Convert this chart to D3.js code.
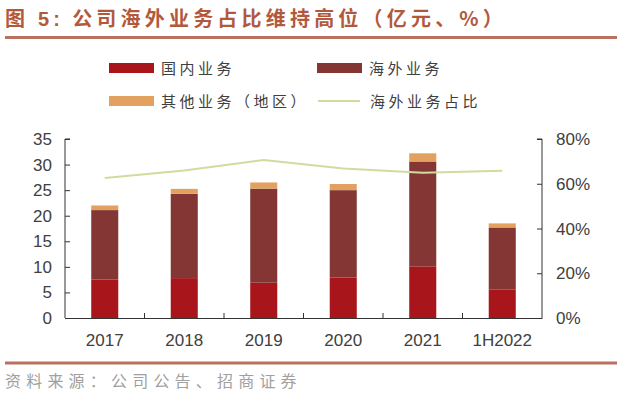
<!DOCTYPE html>
<html>
<head>
<meta charset="utf-8">
<script src="https://d3js.org/d3.v7.min.js"></script>
<style>
  body { margin: 0; background: #fff; }
  svg { display: block; font-family: "Liberation Sans", Arial, sans-serif; }
  .cjk { font-family: "Noto Sans CJK SC", sans-serif; }
</style>
</head>
<body>
<div id="chart"></div>
<script>
// data (亿元, %)
const years    = ["2017", "2018", "2019", "2020", "2021", "1H2022"]
const domestic = [7.5, 7.8, 6.9, 7.9, 10.1, 5.6]
const overseas = [13.6, 16.5, 18.4, 17.1, 20.5, 12.1]
const others   = [0.9, 0.95, 1.2, 1.2, 1.6, 0.8]
const share    = [62.6, 65.9, 70.6, 66.8, 64.9, 65.8]
const leftTicks  = [0, 5, 10, 15, 20, 25, 30, 35]
const rightTicks = [0, 20, 40, 60, 80]

const w = 640, h = 399
const m = {left: 65, right: 98, top: 139, bottom: 81}

const colors = {domestic: "#a8161b", overseas: "#843634", others: "#e2a15f", share: "#cfdc9f"}

const svg = d3.select("#chart").append("svg").attr("width", w).attr("height", h)

// title + rules
const title = svg.append("text").attr("class", "cjk").attr("x", 5).attr("y", 26)
  .attr("font-size", 20).attr("font-weight", "bold").attr("fill", "#b3593b")
  .attr("letter-spacing", 4.2)
title.append("tspan").text("图 ")
title.append("tspan").attr("font-family", "Liberation Sans, Arial, sans-serif").text("5:")
title.append("tspan").attr("dx", 8).text("公司海外业务占比维持高位（亿元、%）")
svg.append("line").attr("x1", 5).attr("x2", 617).attr("y1", 37.5).attr("y2", 37.5)
  .attr("stroke", "#b8725f").attr("stroke-width", 3)
svg.append("line").attr("x1", 5).attr("x2", 617).attr("y1", 363).attr("y2", 363)
  .attr("stroke", "#b8725f").attr("stroke-width", 3)
svg.append("text").attr("class", "cjk").attr("x", 5).attr("y", 387)
  .attr("font-size", 16).attr("fill", "#a0a0a0").attr("letter-spacing", 5.2)
  .text("资料来源：公司公告、招商证券")

const x = d3.scaleBand().domain(years).range([m.left, w - m.right]).paddingInner(0.66).paddingOuter(0.33)
const xb = d3.scaleBand().domain(years).range([m.left, w - m.right])
const y = d3.scaleLinear().domain([0, 35]).range([h - m.bottom, m.top])
const y2 = d3.scaleLinear().domain([0, 80]).range([h - m.bottom, m.top])

// stacked bars
const rows = years.map((yr, i) => ({year: yr, domestic: domestic[i], overseas: overseas[i], others: others[i]}))
const stack = d3.stack().keys(["domestic", "overseas", "others"])(rows)

svg.selectAll(".layer").data(stack).enter().append("g")
  .attr("fill", d => colors[d.key])
  .selectAll("rect").data(d => d).enter().append("rect")
  .attr("x", d => x(d.data.year))
  .attr("width", x.bandwidth())
  .attr("y", d => y(d[1]))
  .attr("height", d => y(d[0]) - y(d[1]))

// share line
const line = d3.line().x((d, i) => xb(years[i]) + xb.bandwidth() / 2).y(d => y2(d))
svg.append("path").datum(share).attr("d", line)
  .attr("fill", "none").attr("stroke", colors.share).attr("stroke-width", 2)

// axes
const axisColor = "#333"
const gl = svg.append("g").attr("transform", `translate(${m.left},0)`)
  .call(d3.axisRight(y).tickValues(leftTicks).tickSize(5).tickFormat(""))
gl.select(".domain").attr("d", `M5,${y(35)}H0V${y(0)}`)
gl.selectAll("line, path").attr("stroke", axisColor)
svg.append("g").selectAll("text").data(leftTicks).enter().append("text")
  .attr("x", 52).attr("y", d => y(d) + 6).attr("text-anchor", "end")
  .attr("font-size", 17).attr("fill", "#404040").text(d => d)

const gr = svg.append("g").attr("transform", `translate(${w - m.right},0)`)
  .call(d3.axisLeft(y2).tickValues(rightTicks).tickSize(5).tickFormat(""))
gr.select(".domain").attr("d", `M-5,${y2(80)}H0V${y2(0)}`)
gr.selectAll("line, path").attr("stroke", axisColor)
svg.append("g").selectAll("text").data(rightTicks).enter().append("text")
  .attr("x", w - m.right + 14).attr("y", d => y2(d) + 6)
  .attr("font-size", 17).attr("fill", "#404040").text(d => d + "%")

const gx = svg.append("g").attr("transform", `translate(0,${h - m.bottom})`)
  .call(d3.axisTop(xb).tickSize(0).tickFormat(""))
gx.selectAll("line, path").attr("stroke", axisColor)
// boundary ticks between categories
gx.selectAll(".sep").data(years.slice(1)).enter().append("line")
  .attr("x1", d => xb(d)).attr("x2", d => xb(d)).attr("y1", 0).attr("y2", -5)
  .attr("stroke", axisColor)
svg.append("g").selectAll("text").data(years).enter().append("text")
  .attr("x", d => xb(d) + xb.bandwidth() / 2).attr("y", 346)
  .attr("text-anchor", "middle").attr("font-size", 17).attr("fill", "#404040").text(d => d)

// legend
const legend = [
  {label: "国内业务", key: "domestic", type: "rect", x: 109, y: 68},
  {label: "海外业务", key: "overseas", type: "rect", x: 317, y: 68},
  {label: "其他业务（地区）", key: "others", type: "rect", x: 109, y: 101},
  {label: "海外业务占比", key: "share", type: "line", x: 318, y: 101}
]
const lg = svg.append("g").selectAll("g").data(legend).enter().append("g")
  .attr("transform", d => `translate(${d.x},${d.y})`)
lg.filter(d => d.type === "rect").append("rect")
  .attr("x", 0).attr("y", -5).attr("width", 45).attr("height", 10).attr("fill", d => colors[d.key])
lg.filter(d => d.type === "line").append("line")
  .attr("x1", 0).attr("x2", 42).attr("y1", 0).attr("y2", 0)
  .attr("stroke", colors.share).attr("stroke-width", 2)
lg.append("text").attr("class", "cjk").attr("x", 52).attr("y", 6)
  .attr("font-size", 15).attr("fill", "#404040").attr("letter-spacing", 3.5)
  .text(d => d.label)
</script>
</body>
</html>
